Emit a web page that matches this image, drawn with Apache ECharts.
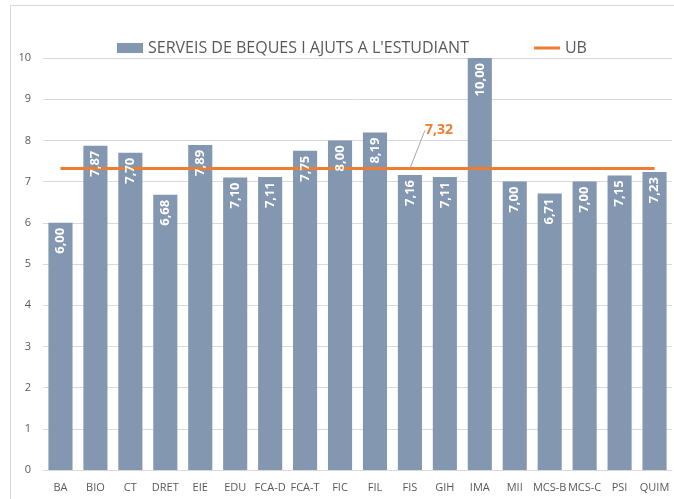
<!DOCTYPE html>
<html>
<head>
<meta charset="utf-8">
<script src="https://cdn.jsdelivr.net/npm/echarts@6/dist/echarts.min.js"></script>
<style>
  html, body { margin: 0; padding: 0; background: #fff; overflow: hidden; }
  #frame { position: absolute; left: 10px; top: 5px; width: 720px; height: 540px; border: 1px solid #d9d9d9; }
  #main { position: absolute; left: 0; top: 0; width: 674px; height: 499px; }
</style>
</head>
<body>
<div id="frame"></div>
<div id="main"></div>
<script>
// dades
const categories = ['BA', 'BIO', 'CT', 'DRET', 'EIE', 'EDU', 'FCA-D', 'FCA-T', 'FIC', 'FIL', 'FIS', 'GIH', 'IMA', 'MII', 'MCS-B', 'MCS-C', 'PSI', 'QUIM']
const serveisValues = [6.00, 7.87, 7.70, 6.68, 7.89, 7.10, 7.11, 7.75, 8.00, 8.19, 7.16, 7.11, 10.00, 7.00, 6.71, 7.00, 7.15, 7.23]
const ubValue = 7.32
const ubLabelIndex = 10 // el valor UB s'etiqueta sobre FIS
const yTicks = [0, 1, 2, 3, 4, 5, 6, 7, 8, 9, 10]

const SERIES_NAME = "SERVEIS DE BEQUES I AJUTS A L'ESTUDIANT"
const fmt = v => Number(v).toFixed(2).replace('.', ',')

const ubData = categories.map((c, i) => {
  if (i === ubLabelIndex) {
    return {
      value: ubValue,
      label: {
        show: true,
        position: 'top',
        formatter: p => fmt(p.value),
        color: '#ED7D31',
        fontWeight: 'bold',
        fontSize: 14,
        fontFamily: 'Open Sans'
      },
      labelLine: { show: true, lineStyle: { color: '#a6a6a6', width: 1 } }
    }
  }
  return ubValue
})

const chart = echarts.init(document.getElementById('main'))
const option = {
  backgroundColor: 'transparent',
  animation: false,
  textStyle: { fontFamily: 'Open Sans' },
  legend: {
    left: 112,
    top: 35,
    itemGap: 65,
    itemWidth: 26,
    itemHeight: 10,
    textStyle: { fontSize: 16, color: '#595959', fontFamily: 'Open Sans' },
    data: [
      { name: SERIES_NAME, icon: 'rect' },
      { name: 'UB', icon: 'path://M0,4 L26,4 L26,7 L0,7 Z' }
    ]
  },
  grid: { left: 43, right: 2, top: 58, bottom: 29 },
  xAxis: {
    type: 'category',
    data: categories,
    axisTick: { show: false },
    axisLine: { lineStyle: { color: '#d9d9d9' } },
    axisLabel: { color: '#595959', fontSize: 11, margin: 12, interval: 0 }
  },
  yAxis: {
    type: 'value',
    min: yTicks[0],
    max: yTicks[yTicks.length - 1],
    interval: 1,
    axisLine: { show: false },
    axisTick: { show: false },
    axisLabel: { color: '#595959', fontSize: 11, margin: 12 },
    splitLine: { lineStyle: { color: '#d9d9d9' } }
  },
  series: [
    {
      name: SERIES_NAME,
      type: 'bar',
      data: serveisValues,
      barWidth: '69%',
      z: 2,
      itemStyle: { color: '#8497B0' }
    },
    {
      name: 'UB',
      type: 'line',
      data: ubData,
      symbol: 'circle',
      symbolSize: 0,
      showSymbol: true,
      z: 3,
      lineStyle: { color: '#ED7D31', width: 3 },
      itemStyle: { color: '#ED7D31' },
      labelLayout: p => (p.dataIndex === ubLabelIndex ? { dx: 29, dy: -26 } : {})
    },
    {
      // només etiquetes, per sobre de la línia UB
      name: 'etiquetes',
      type: 'bar',
      data: serveisValues,
      barWidth: '69%',
      barGap: '-100%',
      z: 4,
      silent: true,
      itemStyle: { color: 'transparent' },
      label: {
        show: true,
        position: 'insideTop',
        rotate: 90,
        align: 'right',
        verticalAlign: 'middle',
        distance: 5,
        color: '#fff',
        fontWeight: 'bold',
        fontSize: 13,
        fontFamily: 'Open Sans',
        formatter: p => fmt(p.value)
      }
    }
  ]
}
chart.setOption(option)
</script>
</body>
</html>
